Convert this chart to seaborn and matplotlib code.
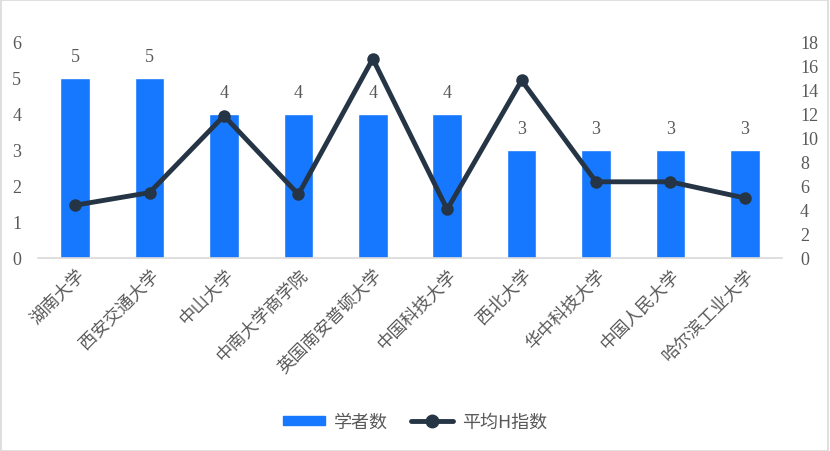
import numpy as np
import pandas as pd
import seaborn as sns
import matplotlib.pyplot as plt
from matplotlib.lines import Line2D
from matplotlib.patches import Patch, Rectangle

schools = ['湖南大学', '西安交通大学', '中山大学', '中南大学商学院', '英国南安普顿大学',
           '中国科技大学', '西北大学', '华中科技大学', '中国人民大学', '哈尔滨工业大学']
scholars = [5, 5, 4, 4, 4, 4, 3, 3, 3, 3]
avg_h = [4.4, 5.45, 11.85, 5.3, 16.6, 4.05, 14.8, 6.35, 6.35, 5.0]

sns.set_style('white')
plt.rcParams['font.family'] = ['Noto Sans CJK SC', 'DejaVu Sans']

bar_color = '#1677FF'
line_color = '#263545'
text_color = '#595959'
num_font = 'Liberation Serif'

df = pd.DataFrame({'school': schools, 'scholars': scholars, 'avg_h': avg_h, 'pos': np.arange(len(schools))})

fig = plt.figure(figsize=(8.3, 4.52), dpi=100)
ax = fig.add_axes([38 / 830, 1 - 259 / 452, 744 / 830, 216 / 452])
sns.barplot(data=df, x='school', y='scholars', color=bar_color, width=0.4, saturation=1, ax=ax)
ax.set_xlim(-0.5, len(schools) - 0.5)
ax.set_ylim(0, 6)
ax.set_yticks(range(0, 7))
ax.set_xlabel('')
ax.set_ylabel('')
for c in ax.containers:
    ax.bar_label(c, padding=9, color=text_color, fontsize=13, family=num_font)
ax.tick_params(axis='y', length=0, pad=12, labelsize=13, labelcolor=text_color)
for t in ax.get_yticklabels():
    t.set_family(num_font)
ax.tick_params(axis='x', length=0, pad=5, labelsize=12.5, labelcolor=text_color)
ax.set_xticks(range(len(schools)))
ax.set_xticklabels(schools, rotation=45, ha='right', rotation_mode='anchor')
for s in ['left', 'right', 'top']:
    ax.spines[s].set_visible(False)
ax.spines['bottom'].set_color('#D9D9D9')
ax.spines['bottom'].set_linewidth(1.2)

ax2 = ax.twinx()
sns.lineplot(data=df, x='pos', y='avg_h', color=line_color, linewidth=3.5, marker='o',
             markersize=9, markeredgewidth=0, sort=False, ax=ax2)
ax2.set_ylim(0, 18)
ax2.set_yticks(range(0, 19, 2))
ax2.set_ylabel('')
ax2.tick_params(axis='y', length=0, pad=13, labelsize=13, labelcolor=text_color)
for t in ax2.get_yticklabels():
    t.set_family(num_font)
for s in ax2.spines.values():
    s.set_visible(False)
ax2.set_xlim(-0.5, len(schools) - 0.5)

handles = [Patch(color=bar_color), Line2D([], [], color=line_color, lw=3.5, marker='o', markersize=9)]
fig.legend(handles, ['学者数', '平均H指数'], loc='center', bbox_to_anchor=(0.5, 1 - 423 / 452),
           ncol=2, frameon=False, fontsize=13, labelcolor=text_color, handlelength=2.3,
           handleheight=0.45, handletextpad=0.5, columnspacing=1.3)

fig.patches.append(Rectangle((0.001, 0.001), 0.997, 0.997, transform=fig.transFigure,
                             fill=False, edgecolor='#D9D9D9', lw=1.2))
fig.savefig('out.png', dpi=100)
